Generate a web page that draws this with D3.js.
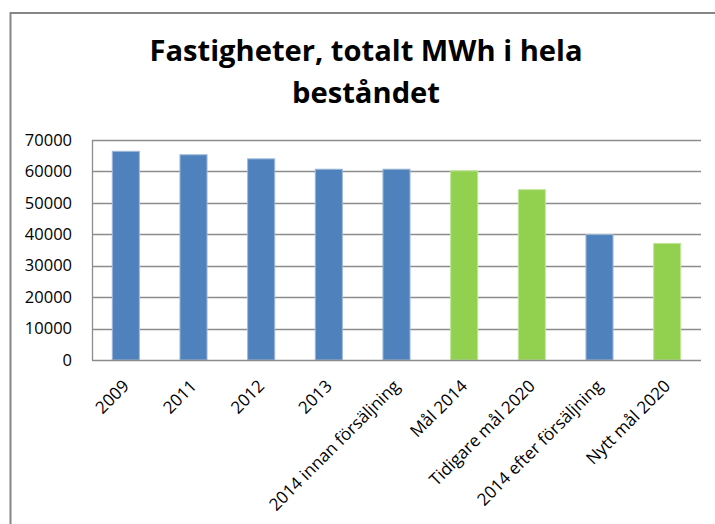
<!DOCTYPE html>
<html>
<head>
<meta charset="utf-8">
<script src="https://cdn.jsdelivr.net/npm/d3@7"></script>
<style>
  html, body { margin: 0; padding: 0; background: #fff; }
  svg { display: block; }
</style>
</head>
<body>
<svg id="chart" width="715" height="524"></svg>
<script>
const titleLines = ["Fastigheter, totalt MWh i hela", "beståndet"];
const categories = ["2009", "2011", "2012", "2013", "2014 innan försäljning", "Mål 2014", "Tidigare mål 2020", "2014 efter försäljning", "Nytt mål 2020"];
const values = [66400, 65300, 64000, 60700, 60700, 60200, 54200, 39900, 37100];
const kinds = ["utfall", "utfall", "utfall", "utfall", "utfall", "mål", "mål", "utfall", "mål"];
const yTicks = [0, 10000, 20000, 30000, 40000, 50000, 60000, 70000];

const svg = d3.select("#chart");
const W = 715, H = 524;
const plot = { left: 92, right: 701, top: 140, bottom: 360 };

// outer frame (only left and top edges visible)
svg.append("path")
  .attr("d", `M10.5,${H} L10.5,13 L${W},13`)
  .attr("fill", "none").attr("stroke", "#868686").attr("stroke-width", 2);

// title
const title = svg.append("text")
  .attr("text-anchor", "middle")
  .attr("font-family", "'Open Sans', sans-serif")
  .attr("font-weight", 700)
  .attr("font-size", 28)
  .attr("fill", "#000");
const titleWidths = [433, 148];
title.selectAll("tspan").data(titleLines).join("tspan")
  .attr("x", 366)
  .attr("y", (d, i) => 61 + i * 42)
  .text(d => d)
  .each(function(d, i) {
    const natural = this.getComputedTextLength();
    if (Math.abs(natural - titleWidths[i]) > 4) {
      d3.select(this).attr("textLength", titleWidths[i]).attr("lengthAdjust", "spacingAndGlyphs");
    }
  });

const x = d3.scaleBand().domain(categories).range([plot.left, plot.right]).paddingInner(0.6).paddingOuter(0.3);
const y = d3.scaleLinear().domain([0, 70000]).range([plot.bottom, plot.top]);

// gridlines
svg.append("g").selectAll("line").data(yTicks.filter(d => d > 0)).join("line")
  .attr("x1", plot.left).attr("x2", plot.right)
  .attr("y1", d => Math.round(y(d)) + 0.5).attr("y2", d => Math.round(y(d)) + 0.5)
  .attr("stroke", "#8c8c8c").attr("stroke-width", 1.3);

// y axis
const yAxis = svg.append("g")
  .attr("transform", `translate(${plot.left},0)`)
  .call(d3.axisLeft(y).tickValues(yTicks).tickSize(0).tickPadding(20).tickFormat(d3.format("d")));
yAxis.select(".domain").attr("stroke", "#8c8c8c").attr("stroke-width", 1.3);
yAxis.selectAll("text")
  .attr("font-family", "'Open Sans', sans-serif").attr("font-size", 16.5).attr("fill", "#000");

// bars
const colors = { "utfall": "#4F81BD", "mål": "#92D050" };
const strokes = { "utfall": "#9db8da", "mål": "#c2e69c" };
svg.append("g").selectAll("rect").data(categories).join("rect")
  .attr("x", d => x(d))
  .attr("width", x.bandwidth())
  .attr("y", (d, i) => y(values[i]))
  .attr("height", (d, i) => y(0) - y(values[i]))
  .attr("fill", (d, i) => colors[kinds[i]])
  .attr("stroke", (d, i) => strokes[kinds[i]])
  .attr("stroke-width", 1);

// x axis
const xAxis = svg.append("g")
  .attr("transform", `translate(0,${plot.bottom})`)
  .call(d3.axisBottom(x).tickSize(0).tickPadding(0));
xAxis.select(".domain").attr("stroke", "#8c8c8c").attr("stroke-width", 1.3)
  .attr("d", `M${plot.left},0.5H${plot.right}`);
xAxis.selectAll("text")
  .attr("font-family", "'Open Sans', sans-serif").attr("font-size", 17).attr("fill", "#000")
  .attr("text-anchor", "end")
  .attr("dy", "0.35em")
  .attr("y", 0)
  .attr("transform", "translate(0,23) rotate(-45)");
</script>
</body>
</html>
